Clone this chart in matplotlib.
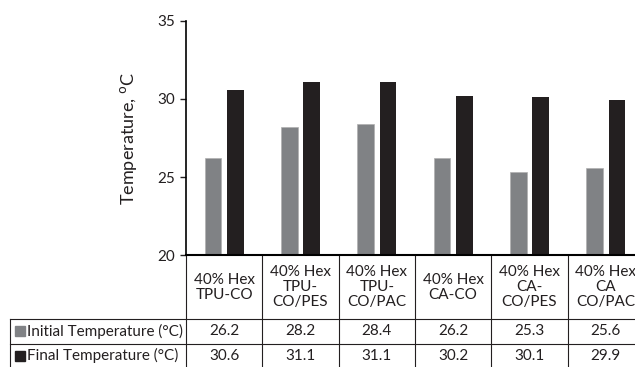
import matplotlib
matplotlib.use('Agg')
import matplotlib.pyplot as plt
import numpy as np

plt.rcParams['font.family'] = ['Lato', 'DejaVu Sans']

categories = ['40% Hex\nTPU-CO', '40% Hex\nTPU-\nCO/PES', '40% Hex\nTPU-\nCO/PAC',
              '40% Hex\nCA-CO', '40% Hex\nCA-\nCO/PES', '40% Hex\nCA\nCO/PAC']
initial = [26.2, 28.2, 28.4, 26.2, 25.3, 25.6]
final = [30.6, 31.1, 31.1, 30.2, 30.1, 29.9]
series_names = ['Initial Temperature (°C)', 'Final Temperature (°C)']
gray = '#808285'
black = '#231f20'

fig = plt.figure(figsize=(6.35, 3.67), dpi=100)
ax = fig.add_axes([186/635, 111.7/367, 458/635, 234.6/367])

x = np.arange(len(categories))
ax.bar(x - 0.145, [v - 20 for v in initial], 0.22, bottom=20, color=gray, edgecolor='#b0b0b0', linewidth=0.5)
ax.bar(x + 0.145, [v - 20 for v in final], 0.22, bottom=20, color=black)

ax.set_xlim(-0.5, len(categories) - 0.5)
ax.set_ylim(20, 35)
ax.set_yticks([20, 25, 30, 35])
ax.set_xticks([])
ax.tick_params(axis='y', direction='out', length=4, width=1, labelsize=11, pad=4, colors='#231f20')
for s in ['top', 'right']:
  ax.spines[s].set_visible(False)
ax.spines['left'].set_linewidth(1.2)
ax.spines['bottom'].set_linewidth(1.5)
ax.set_ylabel('Temperature, $^{\\mathrm{o}}$C', fontsize=13, labelpad=13, color='#231f20')

# data table below the axis
tr = ax.get_xaxis_transform()
y_head = -0.2715
y_row1 = -0.378
y_row2 = -0.50
x_left = -2.807
lw = 0.8
kw = dict(transform=tr, clip_on=False, color='#231f20')

for b in np.arange(-0.5, len(categories) + 0.5, 1.0):
  ax.plot([b, b], [0, y_row2], lw=lw, **kw)
ax.plot([x_left, x_left], [y_head, y_row2], lw=lw, **kw)
ax.plot([x_left, len(categories)], [y_head, y_head], lw=lw, **kw)
ax.plot([x_left, len(categories)], [y_row1, y_row1], lw=lw, **kw)

for i, c in enumerate(categories):
  ax.text(i, y_head / 2, c, ha='center', va='center', fontsize=11,
          linespacing=1.1, transform=tr, color='#231f20')
  ax.text(i, (y_head + y_row1) / 2, f'{initial[i]:.1f}', ha='center', va='center',
          fontsize=11, transform=tr, color='#231f20')
  ax.text(i, (y_row1 + y_row2) / 2 + 0.01, f'{final[i]:.1f}', ha='center', va='center',
          fontsize=11, transform=tr, color='#231f20')

ymid = [(y_head + y_row1) / 2, (y_row1 + y_row2) / 2 + 0.01]
for name, col, ym in zip(series_names, [gray, black], ymid):
  ax.plot([x_left + 0.13], [ym], marker='s', markersize=7, color=col, transform=tr, clip_on=False)
  ax.text(x_left + 0.23, ym, name, ha='left', va='center', fontsize=11,
          transform=tr, color='#231f20')

plt.savefig('out.png')
